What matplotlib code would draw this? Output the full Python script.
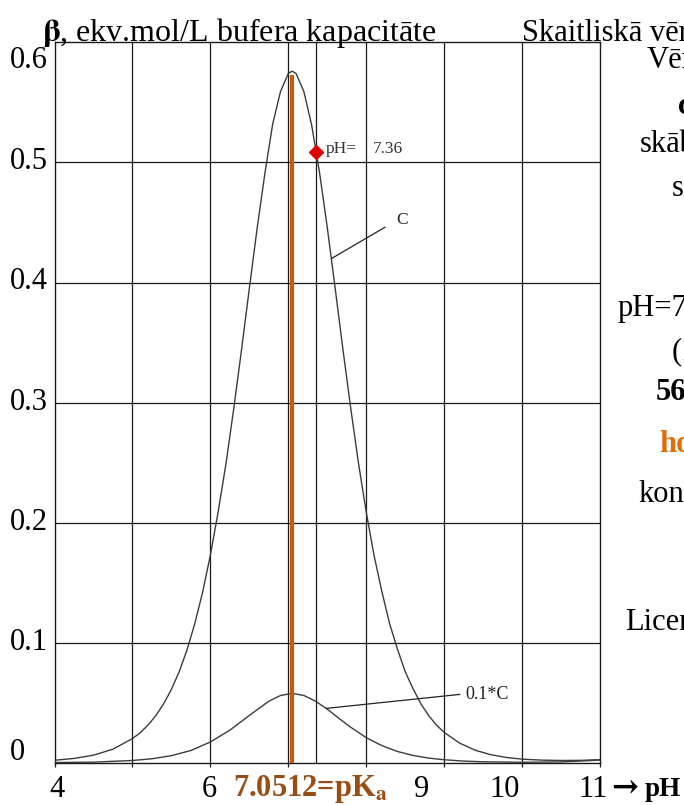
import numpy as np
import matplotlib
matplotlib.use("Agg")
import matplotlib.pyplot as plt

plt.rcParams["font.family"] = ["Liberation Serif", "DejaVu Serif"]
plt.rcParams["mathtext.fontset"] = "stix"

# ---- data ----
ph_c = [4.0, 4.25, 4.5, 4.75, 5.0, 5.1, 5.2, 5.3, 5.4, 5.5, 5.6, 5.7, 5.8, 5.9,
        6.0, 6.1, 6.2, 6.3, 6.4, 6.5, 6.6, 6.7, 6.8, 6.9, 7.0, 7.05, 7.1, 7.2,
        7.3, 7.4, 7.5, 7.6, 7.7, 7.8, 7.9, 8.0, 8.1, 8.2, 8.3, 8.4, 8.5, 8.6,
        8.7, 8.8, 8.9, 9.0, 9.2, 9.4, 9.6, 9.8, 10.0, 10.25, 10.5, 10.75, 11.0]
beta_c = [0.0023, 0.0038, 0.0065, 0.0115, 0.0203, 0.0252, 0.0316, 0.0394, 0.0492,
          0.0613, 0.076, 0.094, 0.116, 0.142, 0.173, 0.209, 0.249, 0.295, 0.344,
          0.395, 0.445, 0.491, 0.532, 0.559, 0.574, 0.576, 0.574, 0.559, 0.531,
          0.492, 0.446, 0.396, 0.345, 0.296, 0.250, 0.209, 0.173, 0.143, 0.116,
          0.095, 0.076, 0.062, 0.0494, 0.0396, 0.0317, 0.0255, 0.0165, 0.0106,
          0.0069, 0.0046, 0.0032, 0.0024, 0.0021, 0.0022, 0.0028]

ph_01c = [4.0, 4.5, 5.0, 5.25, 5.5, 5.75, 6.0, 6.25, 6.5, 6.75, 6.9, 7.05, 7.2,
          7.35, 7.5, 7.65, 7.8, 8.0, 8.2, 8.4, 8.6, 8.8, 9.0, 9.25, 9.5, 10.0,
          10.5, 11.0]
beta_01c = [0.0004, 0.0007, 0.0021, 0.0035, 0.0061, 0.0104, 0.0175, 0.0273,
            0.0396, 0.0514, 0.0562, 0.0580, 0.0562, 0.0515, 0.0448, 0.0372,
            0.0298, 0.0211, 0.0145, 0.0096, 0.0063, 0.0041, 0.0027, 0.0016,
            0.0010, 0.0006, 0.0009, 0.0024]

pka = 7.0512
beta_peak = 0.573
ph_point = 7.36
beta_point = 0.509

yticks = [0, 0.1, 0.2, 0.3, 0.4, 0.5, 0.6]
ytick_labels = ["0", "0.1", "0.2", "0.3", "0.4", "0.5", "0.6"]
xgrid = [5, 6, 7, 8, 9, 10]

W, H = 684, 805
fig = plt.figure(figsize=(W / 100, H / 100), dpi=100)
fig.patch.set_facecolor("white")


def px(x, y):
    # pixel position -> figure fraction
    return x / W, 1 - y / H


ax = fig.add_axes([54.5 / W, 1 - 763 / H, (600 - 54.5) / W, (763 - 42.3) / H])
ax.set_xlim(4, 11)
ax.set_ylim(0, 0.6)

grid_kw = dict(color="#1a1a1a", lw=0.9, zorder=1)
for g in xgrid:
    ax.axvline(g, **grid_kw)
for g in yticks[1:-1]:
    ax.axhline(g, **grid_kw)
ax.axvline(ph_point, **grid_kw)

ax.plot(ph_c, beta_c, color="#3c3c3c", lw=1.0, zorder=3)
ax.plot(ph_01c, beta_01c, color="#3c3c3c", lw=1.0, zorder=3)
ax.plot([pka, pka], [0, beta_peak], color="#C55A11", lw=3.0, zorder=4,
        solid_capstyle="butt")
ax.plot([ph_point], [beta_point], marker="D", ms=7.5, color="#E00000",
        mec="#E00000", zorder=5, clip_on=False)

# leader lines for curve labels
ax.plot([7.555, 8.24], [0.42, 0.446], color="#222222", lw=0.9, zorder=3)
ax.text(8.38, 0.452, "C", fontsize=12.5, ha="left", va="center", color="#222222")
ax.plot([7.49, 9.20], [0.0455, 0.0571], color="#222222", lw=0.9, zorder=3)
ax.text(9.27, 0.0572, "0.1*C", fontsize=13, ha="left", va="center", color="#222222")
ax.text(7.48, beta_point + 0.002, "pH=", fontsize=12.5, ha="left", va="center",
        color="#333333")
ax.text(8.09, beta_point + 0.002, "7.36", fontsize=12.5, ha="left", va="center",
        color="#333333")

for s in ax.spines.values():
    s.set_color("#1a1a1a")
    s.set_linewidth(1.0)
ax.set_xticks([4] + xgrid + [11])
ax.set_xticklabels([])
ax.set_yticks([])
ax.tick_params(axis="x", direction="out", length=3, width=0.9, color="#1a1a1a")

# y labels, left aligned like the slide
ylab_y = {0: 752, 0.6: 60}
for v, lab in zip(yticks, ytick_labels):
    ypix = ylab_y.get(v, 763 - v * 1202.8)
    fig.text(*px(10, ypix), lab, fontsize=22, ha="left", va="center")

# x labels
fs = 22
fig.text(*px(56.5, 789), "4", fontsize=fs, ha="center", va="center")
fig.text(*px(209.6, 789), "6", fontsize=fs, ha="center", va="center")
fig.text(*px(233, 789), r"7.0512=pK$_{\mathbf{a}}$", fontsize=fs, ha="left",
         va="center", color="#9A4D12", fontweight="bold")
fig.text(*px(421.7, 789), "9", fontsize=fs, ha="center", va="center")
fig.text(*px(505, 789), "10", fontsize=fs, ha="center", va="center")
fig.text(*px(578, 789), "11", fontsize=fs, ha="left", va="center")
fig.text(*px(625, 789), "→", fontsize=23, ha="center", va="center",
         fontweight="bold", family=["DejaVu Serif"])
fig.text(*px(645, 789), "pH", fontsize=19.5, ha="left", va="center",
         fontweight="bold")

# header line
fig.text(*px(41.5, 41), r"$\mathbf{\beta}$, ekv.mol/L bufera kapacitāte",
         fontsize=23, ha="left", va="baseline")
fig.text(*px(522, 41), "Skaitliskā vērtība", fontsize=fs, ha="left", va="baseline")

# slide text on the right, cut by the frame
side = [
    (646.7, 60, "Vērtība", "normal", "black"),
    (678, 107, "c", "bold", "black"),
    (640, 145, "skābes", "normal", "black"),
    (672, 189, "sistēmā", "normal", "black"),
    (618, 308, "pH=7.05", "normal", "black"),
    (672, 352, "(1", "normal", "black"),
    (656, 392, "56%", "bold", "black"),
    (659, 444, "homeostāze", "bold", "#E36C0A"),
    (638, 494, "konstante", "normal", "black"),
    (625, 623, "Licence", "normal", "black"),
]
for x, y, t, w, c in side:
    fig.text(*px(x, y), t, fontsize=fs, ha="left", va="center", fontweight=w, color=c)

fig.savefig("out.png", dpi=100)
